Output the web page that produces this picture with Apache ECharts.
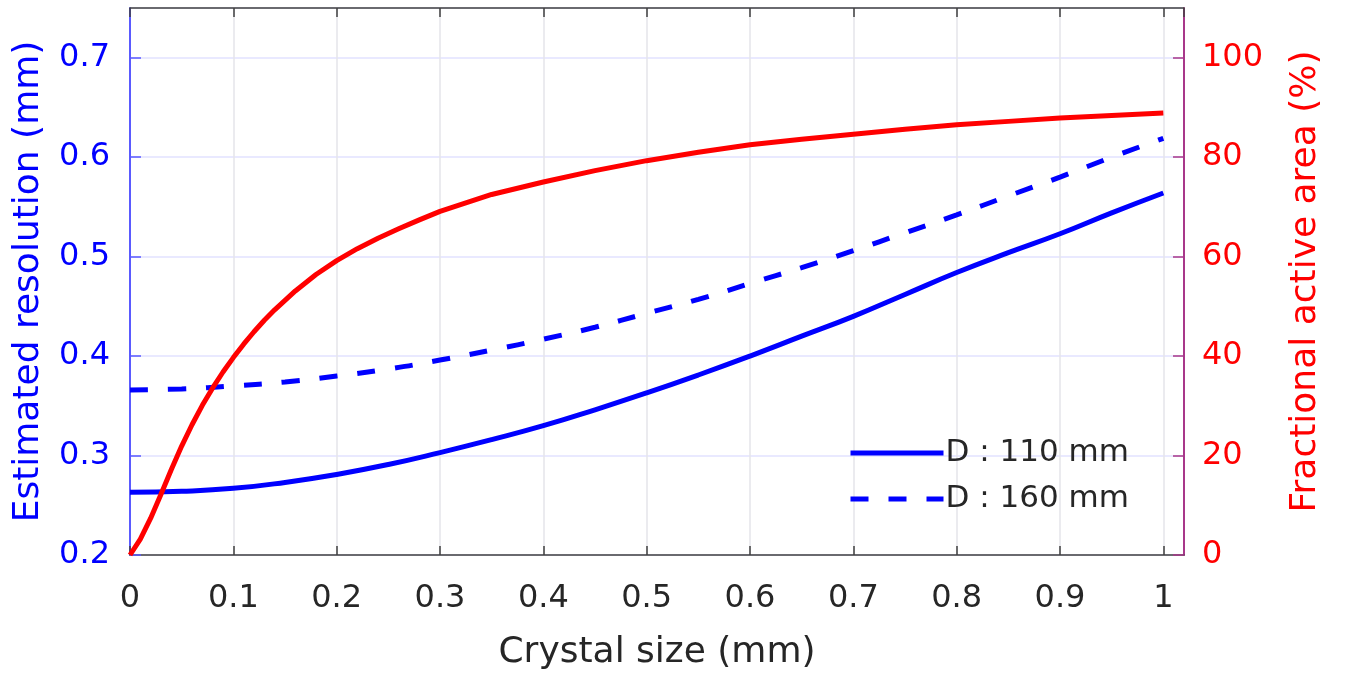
<!DOCTYPE html>
<html>
<head>
<meta charset="utf-8">
<script src="https://cdn.jsdelivr.net/npm/echarts@6/dist/echarts.min.js"></script>
<style>
html,body{margin:0;padding:0;background:#fff;}
#chart{width:1345px;height:678px;}
</style>
</head>
<body>
<div id="chart"></div>
<script>
// ---- data ----
const xTicks = [0, 0.1, 0.2, 0.3, 0.4, 0.5, 0.6, 0.7, 0.8, 0.9, 1];

const redX = [0, 0.01, 0.02, 0.03, 0.04, 0.05, 0.06, 0.07, 0.08, 0.09, 0.10, 0.11, 0.12, 0.13, 0.14, 0.16, 0.18, 0.20,
  0.22, 0.24, 0.26, 0.28, 0.30, 0.35, 0.40, 0.45, 0.50, 0.55, 0.60, 0.65, 0.70, 0.75, 0.80, 0.85, 0.90, 0.95, 1.00];
const activeArea = [0, 3.2, 7.4, 12.2, 17.2, 21.9, 26.2, 30.1, 33.6, 36.8, 39.7, 42.4, 44.9, 47.2, 49.3, 53.1, 56.4, 59.2,
  61.6, 63.7, 65.6, 67.4, 69.1, 72.5, 75.0, 77.3, 79.3, 81.0, 82.5, 83.6, 84.6, 85.6, 86.5, 87.2, 87.9, 88.4, 88.9];

const blueX = [0, 0.05, 0.1, 0.15, 0.2, 0.25, 0.3, 0.35, 0.4, 0.45, 0.5, 0.55, 0.6, 0.65, 0.7, 0.75, 0.8, 0.85, 0.9, 0.95, 1.0];
const res110 = [0.263, 0.264, 0.267, 0.273, 0.281, 0.291, 0.303, 0.316, 0.330, 0.346, 0.363, 0.381, 0.400, 0.420, 0.440, 0.462, 0.484, 0.504, 0.523, 0.544, 0.564];
const res160 = [0.366, 0.367, 0.370, 0.374, 0.380, 0.387, 0.396, 0.406, 0.417, 0.429, 0.443, 0.457, 0.473, 0.489, 0.506, 0.524, 0.542, 0.561, 0.580, 0.600, 0.619];

const seriesNames = ['D : 110 mm', 'D : 160 mm', 'Fractional active area'];
const axisTitles = { x: 'Crystal size (mm)', left: 'Estimated resolution (mm)', right: 'Fractional active area (%)' };

function pairs(xs, ys) { return xs.map((x, i) => [x, ys[i]]); }

const FONT = 'DejaVu Sans';
const chart = echarts.init(document.getElementById('chart'), null, { renderer: 'canvas' });

function xLabel(v) {
  const r = Math.round(v * 10) / 10;
  if (Math.abs(r - v) > 1e-6 || r > 1) return '';
  return String(r);
}

const option = {
  backgroundColor: '#ffffff',
  animation: false,
  grid: { left: 130, right: 161, top: 8, bottom: 123, containLabel: false, outerBoundsMode: 'none' },
  legend: {
    orient: 'vertical',
    left: 843,
    top: 430,
    data: [seriesNames[0], seriesNames[1]],
    itemWidth: 93,
    itemHeight: 36,
    itemGap: 10,
    itemStyle: { opacity: 0 },
    lineStyle: { width: 5 },
    textStyle: { fontFamily: FONT, fontSize: 31, color: '#262626', lineHeight: 36, padding: [0, 0, 0, -3] }
  },
  xAxis: [
    {
      type: 'value', position: 'bottom', min: 0, max: 1.02, interval: 0.1,
      name: axisTitles.x, nameLocation: 'middle', nameGap: 80,
      nameTextStyle: { fontFamily: FONT, fontSize: 36, color: '#262626' },
      axisLine: { show: true, onZero: false, lineStyle: { color: '#404040', width: 1.5 } },
      axisTick: { show: true, inside: true, length: 9, lineStyle: { color: '#404040', width: 1.5 } },
      axisLabel: { formatter: xLabel, fontFamily: FONT, fontSize: 32, color: '#262626', margin: 28, showMaxLabel: false },
      splitLine: { show: true, lineStyle: { color: '#e4e4ea', width: 1.5 } }
    },
    {
      type: 'value', position: 'top', min: 0, max: 1.02, interval: 0.1,
      axisLine: { show: true, onZero: false, lineStyle: { color: '#404040', width: 1.5 } },
      axisTick: { show: true, inside: true, length: 9, lineStyle: { color: '#404040', width: 1.5 } },
      axisLabel: { show: false },
      splitLine: { show: false }
    }
  ],
  yAxis: [
    {
      type: 'value', position: 'left', min: 0.2, max: 0.75, interval: 0.1,
      name: axisTitles.left, nameLocation: 'middle', nameGap: 83, nameRotate: 90,
      nameTextStyle: { fontFamily: FONT, fontSize: 36, color: '#0000ff' },
      axisLine: { show: true, onZero: false, lineStyle: { color: '#5a5aff', width: 2 } },
      axisTick: { show: true, inside: true, length: 11, lineStyle: { color: '#5a5aff', width: 1.5 } },
      axisLabel: { fontFamily: FONT, fontSize: 32, color: '#0000ff', margin: 20, showMaxLabel: false,
        formatter: v => (Math.round(v * 10) / 10).toFixed(1) },
      splitLine: { show: true, lineStyle: { color: '#e2e2ff', width: 1.5 } }
    },
    {
      type: 'value', position: 'right', min: 0, max: 110, interval: 20,
      name: axisTitles.right, nameLocation: 'middle', nameGap: 104, nameRotate: 90,
      nameTextStyle: { fontFamily: FONT, fontSize: 36, color: '#ff0000' },
      axisLine: { show: true, onZero: false, lineStyle: { color: '#a8388a', width: 2 } },
      axisTick: { show: true, inside: true, length: 11, lineStyle: { color: '#a8388a', width: 1.5 } },
      axisLabel: { fontFamily: FONT, fontSize: 32, color: '#ff0000', margin: 18, showMaxLabel: false },
      splitLine: { show: false }
    }
  ],
  series: [
    {
      name: seriesNames[0], type: 'line', xAxisIndex: 0, yAxisIndex: 0,
      data: pairs(blueX, res110), showSymbol: false, symbol: 'none', smooth: true,
      lineStyle: { color: '#0000ff', width: 5 }, itemStyle: { color: '#0000ff' }, z: 3
    },
    {
      name: seriesNames[1], type: 'line', xAxisIndex: 0, yAxisIndex: 0,
      data: pairs(blueX, res160), showSymbol: false, symbol: 'none', smooth: true,
      lineStyle: { color: '#0000ff', width: 5, type: [18, 20] }, itemStyle: { color: '#0000ff' }, z: 3
    },
    {
      name: seriesNames[2], type: 'line', xAxisIndex: 0, yAxisIndex: 1,
      data: pairs(redX, activeArea), showSymbol: false, symbol: 'none', smooth: false,
      lineStyle: { color: '#ff0000', width: 5, join: 'round' }, itemStyle: { color: '#ff0000' }, z: 4
    }
  ]
};
chart.setOption(option);
</script>
</body>
</html>
